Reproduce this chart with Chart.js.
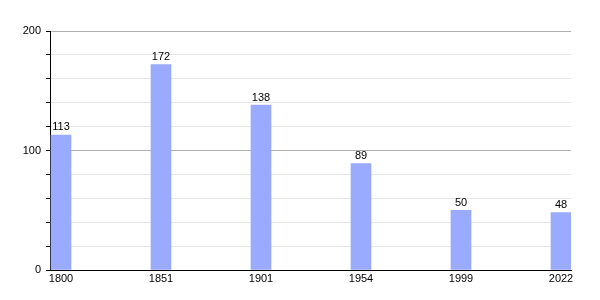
<!DOCTYPE html>
<html>
<head>
<meta charset="utf-8">
<script src="https://cdn.jsdelivr.net/npm/chart.js@4"></script>
<style>
  html, body { margin: 0; padding: 0; background: #fff; }
  #wrap { width: 600px; height: 300px; }
</style>
</head>
<body>
<div id="wrap"><canvas id="popChart"></canvas></div>
<script>
const years = ["1800", "1851", "1901", "1954", "1999", "2022"];
const population = [113, 172, 138, 89, 50, 48];
const yTicks = [0, 100, 200];

const barLabels = {
  id: "barLabels",
  afterDatasetsDraw(chart) {
    const c = chart.ctx;
    const meta = chart.getDatasetMeta(0);
    c.save();
    c.font = "11px 'Liberation Sans', Arial, sans-serif";
    c.fillStyle = "#000";
    c.textAlign = "center";
    c.textBaseline = "bottom";
    meta.data.forEach((bar, i) => {
      c.fillText(String(population[i]), bar.x, bar.y - 2);
    });
    c.restore();
  }
};

const ctx = document.getElementById("popChart").getContext("2d");
new Chart(ctx, {
  type: "bar",
  data: {
    datasets: [{
      data: population.map((v, i) => ({ x: i + 0.11, y: v })),
      backgroundColor: "#99aaff",
      barThickness: 20,
      borderWidth: 0
    }]
  },
  options: {
    responsive: true,
    maintainAspectRatio: false,
    animation: false,
    layout: { padding: { left: 0, right: 29, top: 31, bottom: 0 } },
    plugins: { legend: { display: false }, tooltip: { enabled: false } },
    scales: {
      x: {
        type: "linear",
        min: 0,
        max: 5.21,
        offset: false,
        grid: { display: false, drawTicks: false },
        border: { color: "#000", width: 1 },
        afterBuildTicks: (scale) => {
          scale.ticks = years.map((y, i) => ({ value: i + 0.11 }));
        },
        afterFit: (scale) => { scale.height = 30; },
        ticks: {
          autoSkip: false,
          maxRotation: 0,
          padding: 2,
          color: "#000",
          font: { family: "'Liberation Sans', Arial, sans-serif", size: 11 },
          callback: (v, i) => years[i]
        }
      },
      y: {
        min: 0,
        max: 200,
        afterFit: (scale) => { scale.width = 50; },
        afterBuildTicks: (scale) => {
          const t = [];
          for (let v = 0; v <= 200; v += 20) t.push({ value: v });
          scale.ticks = t;
        },
        border: { color: "#000", width: 1 },
        grid: {
          color: (c) => (c.tick && c.tick.value % 100 === 0) ? "#b0b0b0" : "#e6e6e6",
          tickColor: "#000",
          tickLength: 4
        },
        ticks: {
          padding: 5,
          color: "#000",
          font: { family: "'Liberation Sans', Arial, sans-serif", size: 11 },
          callback: (v) => yTicks.includes(v) ? String(v) : ""
        }
      }
    }
  },
  plugins: [barLabels]
});
</script>
</body>
</html>
